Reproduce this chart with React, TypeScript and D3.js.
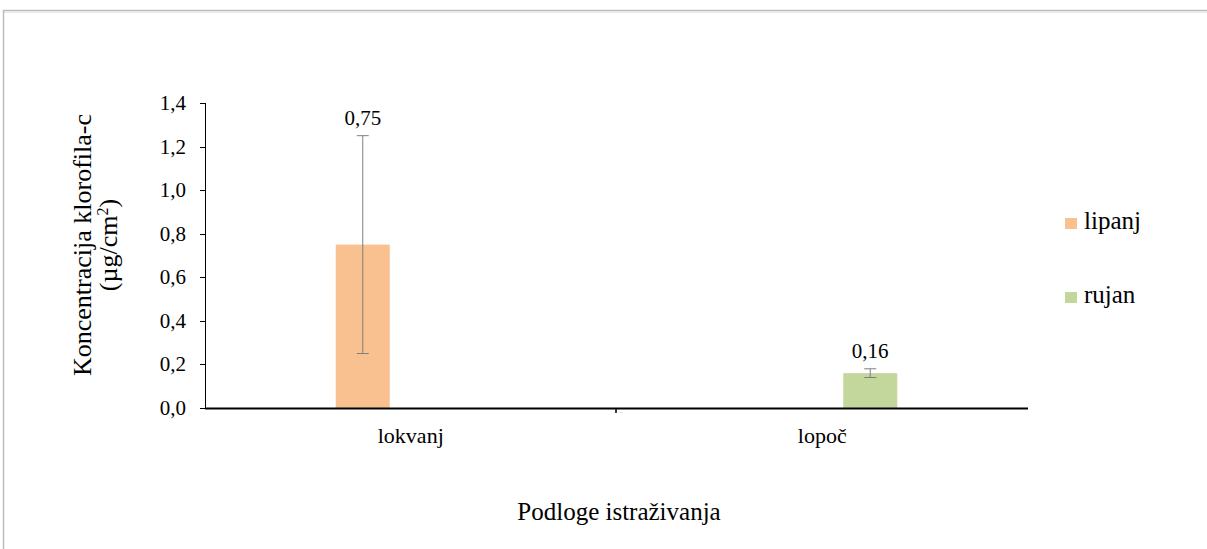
import React from "react";
import * as d3 from "d3";

const categories = ["lokvanj", "lopoč"];
const seriesNames = ["lipanj", "rujan"];
const seriesColors = ["#f9c090", "#c3d69b"];
// values per category per series (null = no bar)
const lipanjValues: (number | null)[] = [0.75, null];
const rujanValues: (number | null)[] = [null, 0.16];
const lipanjErrors: (number | null)[] = [0.5, null];
const rujanErrors: (number | null)[] = [null, 0.02];
const yTicks = [0, 0.2, 0.4, 0.6, 0.8, 1.0, 1.2, 1.4];

const W = 1207;
const H = 549;
const FONT = "Liberation Serif, DejaVu Serif, serif";

export default function App() {
  const left = 205;
  const right = 1028;
  const top = 103;
  const bottom = 408;

  const y = d3.scaleLinear().domain([0, 1.4]).range([bottom, top]);
  const x = d3.scaleBand<string>().domain(categories).range([left, right]).padding(0);
  const inner = d3
    .scaleBand<string>()
    .domain(seriesNames)
    .range([0, x.bandwidth()])
    .paddingInner(0.4375)
    .paddingOuter(1.362);

  const fmt = (v: number) => v.toFixed(1).replace(".", ",");
  const fmt2 = (v: number) => v.toFixed(2).replace(".", ",");

  const series = [
    { name: seriesNames[0], values: lipanjValues, errors: lipanjErrors, color: seriesColors[0] },
    { name: seriesNames[1], values: rujanValues, errors: rujanErrors, color: seriesColors[1] },
  ];

  const ts = { fontFamily: FONT } as React.CSSProperties;

  return (
    <svg
      width={W}
      height={H}
      style={{ position: "absolute", left: 0, top: 0, background: "#fff", fontFamily: FONT }}
    >
      {/* frame */}
      <line x1={3.5} y1={10.5} x2={W} y2={10.5} stroke="#bdbdbd" strokeWidth={1.5} />
      <line x1={4} y1={12} x2={W} y2={12} stroke="#e6e6e6" strokeWidth={1.5} />
      <line x1={3.5} y1={10} x2={3.5} y2={H} stroke="#bdbdbd" strokeWidth={1.5} />

      {/* y axis */}
      <line x1={left + 0.5} y1={top} x2={left + 0.5} y2={bottom} stroke="#000" strokeWidth={1} />
      {yTicks.map((t) => (
        <g key={t}>
          <line x1={left - 5} x2={left} y1={Math.round(y(t)) + 0.5} y2={Math.round(y(t)) + 0.5} stroke="#000" />
          <text x={left - 19} y={y(t) + 7} textAnchor="end" fontSize={21} fill="#000" style={ts}>
            {fmt(t)}
          </text>
        </g>
      ))}

      {/* bars */}
      {series.map((s) =>
        categories.map((c, i) => {
          const v = s.values[i];
          if (v == null) return null;
          const bx = (x(c) as number) + (inner(s.name) as number);
          const bw = inner.bandwidth();
          const cx = bx + bw / 2;
          const e = s.errors[i] ?? 0;
          return (
            <g key={s.name + c}>
              <rect x={bx} y={y(v)} width={bw} height={bottom - y(v)} fill={s.color} />
              <line x1={cx} x2={cx} y1={y(v + e)} y2={y(v - e)} stroke="#7f7f7f" strokeWidth={1} />
              <line x1={cx - 6} x2={cx + 6} y1={y(v + e)} y2={y(v + e)} stroke="#7f7f7f" strokeWidth={1} />
              <line x1={cx - 6} x2={cx + 6} y1={y(v - e)} y2={y(v - e)} stroke="#7f7f7f" strokeWidth={1} />
              <text x={cx} y={y(v + e) - 11} textAnchor="middle" fontSize={21} fill="#000" style={ts}>
                {fmt2(v)}
              </text>
            </g>
          );
        })
      )}

      {/* x axis */}
      <line x1={left} x2={right} y1={bottom + 0.5} y2={bottom + 0.5} stroke="#000" strokeWidth={2} />
      {categories.slice(1).map((c) => (
        <line key={c} x1={(x(c) as number) - 0.5} x2={(x(c) as number) - 0.5} y1={bottom} y2={bottom + 5} stroke="#000" strokeWidth={1.5} />
      ))}
      <text x={(x(categories[1]) as number) + 2} y={bottom + 5} fontSize={6} fill="#bbb" style={ts}>
        ...
      </text>
      {categories.map((c) => (
        <text key={c} x={(x(c) as number) + x.bandwidth() / 2} y={443} textAnchor="middle" fontSize={22} fill="#000" style={ts}>
          {c}
        </text>
      ))}

      {/* axis titles */}
      <text x={619} y={520} textAnchor="middle" fontSize={25} fill="#000" style={ts}>
        Podloge istraživanja
      </text>
      <g transform="translate(91, 245) rotate(-90)">
        <text x={0} y={0} textAnchor="middle" fontSize={26} fill="#000" style={ts}>
          Koncentracija klorofila-c
        </text>
        <text x={0} y={26} textAnchor="middle" fontSize={26} fill="#000" style={ts}>
          (µg/cm
          <tspan dy={-9} fontSize={16}>2</tspan>
          <tspan dy={9}>)</tspan>
        </text>
      </g>

      {/* legend */}
      {series.map((s, i) => (
        <g key={s.name} transform={`translate(1065, ${218 + i * 74})`}>
          <rect x={0} y={0} width={12} height={11} fill={s.color} />
          <text x={19} y={11} fontSize={25} fill="#000" style={ts}>
            {s.name}
          </text>
        </g>
      ))}
    </svg>
  );
}
